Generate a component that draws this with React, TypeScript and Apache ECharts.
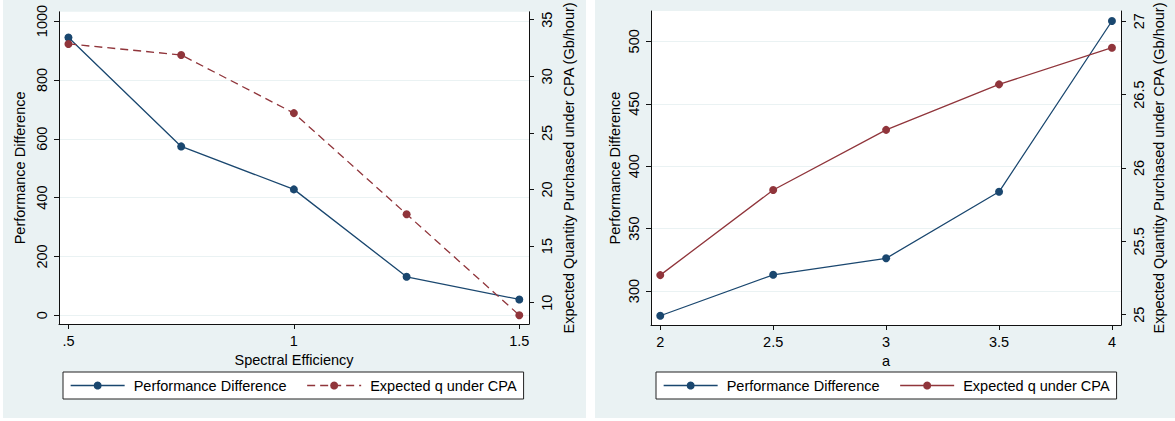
import React, { useEffect, useRef } from 'react';
import * as echarts from 'echarts';

// Left panel data
const efficiency = [0.5, 0.75, 1, 1.25, 1.5];
const perfDiffA = [944, 574, 428, 131, 54];
const expectedQA = [32.86, 31.89, 26.75, 17.82, 8.9];
// Right panel data
const aValues = [2, 2.5, 3, 3.5, 4];
const perfDiffB = [280.2, 313, 326.2, 379.5, 516.3];
const expectedQB = [25.27, 25.85, 26.26, 26.57, 26.82];

// Tick values
const xTicksA = [0.5, 1, 1.5];
const yTicksLeftA = [0, 200, 400, 600, 800, 1000];
const yTicksRightA = [10, 15, 20, 25, 30, 35];
const xTicksB = [2, 2.5, 3, 3.5, 4];
const yTicksLeftB = [300, 350, 400, 450, 500];
const yTicksRightB = [25, 25.5, 26, 26.5, 27];

const NAME_PD = 'Performance Difference';
const NAME_Q = 'Expected q under CPA';
const TITLE_LEFT = 'Performance Difference';
const TITLE_RIGHT = 'Expected Quantity Purchased under CPA (Gb/hour)';

const FONT = '"Liberation Sans", Arial, sans-serif';
const FS = 14.5;
const BLUE = '#1a476f';
const RED = '#90353b';
const BG = '#eaf2f3';
const AXIS = '#111';

const fmt = (v: number) => {
  const s = String(v);
  return s.startsWith('0.') ? s.slice(1) : s;
};

function xAxis(gridIndex: number, min: number, max: number, ticks: number[], name: string) {
  return {
    type: 'value',
    gridIndex,
    min,
    max,
    name,
    nameLocation: 'middle',
    nameGap: 24,
    nameTextStyle: { fontFamily: FONT, fontSize: FS, color: '#000' },
    axisLine: { show: true, onZero: false, lineStyle: { color: AXIS, width: 1 } },
    axisTick: { show: true, length: 5, customValues: ticks, lineStyle: { color: AXIS } },
    axisLabel: { customValues: ticks, margin: 9, fontFamily: FONT, fontSize: FS, color: '#000', formatter: (v: number) => fmt(v) },
    splitLine: { show: false },
  };
}

function yAxis(
  gridIndex: number,
  position: 'left' | 'right',
  min: number,
  max: number,
  ticks: number[],
  name: string,
  grid: boolean,
  nameGap: number
) {
  return {
    type: 'value',
    gridIndex,
    position,
    min,
    max,
    name,
    nameLocation: 'middle',
    nameRotate: 90,
    nameGap,
    nameTextStyle: { fontFamily: FONT, fontSize: FS, color: '#000' },
    axisLine: { show: true, onZero: false, lineStyle: { color: AXIS, width: 1 } },
    axisTick: { show: true, length: 5, customValues: ticks, lineStyle: { color: AXIS } },
    axisLabel: { customValues: ticks, rotate: 90, margin: 10, fontFamily: FONT, fontSize: FS, color: '#000', formatter: (v: number) => fmt(v) },
    splitLine: { show: grid, lineStyle: { color: BG, width: 1 } },
  };
}

function lineSeries(name: string, xs: number[], ys: number[], xi: number, yi: number, color: string, dashed: boolean) {
  return {
    type: 'line',
    name,
    xAxisIndex: xi,
    yAxisIndex: yi,
    data: xs.map((x, i) => [x, ys[i]]),
    symbol: 'circle',
    symbolSize: 8,
    lineStyle: { color, width: 1.3, type: dashed ? [8, 5] : 'solid' },
    itemStyle: { color },
  };
}

function legend(left: number, dashedQ: boolean) {
  return {
    left,
    top: 372,
    orient: 'horizontal',
    backgroundColor: '#fff',
    borderColor: '#222',
    borderWidth: 1,
    padding: [6, 7],
    itemGap: 20,
    itemWidth: 54,
    itemHeight: 10,
    selectedMode: false,
    textStyle: { fontFamily: FONT, fontSize: FS, color: '#000', padding: [0, 0, 0, 4] },
    data: [
      { name: NAME_PD, lineStyle: { type: 'solid', color: BLUE, width: 1.3 } },
      { name: NAME_Q, lineStyle: { type: dashedQ ? [8, 5] : 'solid', color: RED, width: 1.3 } },
    ],
  };
}

export default function App() {
  const ref = useRef<HTMLDivElement>(null);
  useEffect(() => {
    if (!ref.current) return;
    const chart = echarts.init(ref.current, undefined, { renderer: 'svg' });
    chart.setOption({
      animation: false,
      backgroundColor: '#fff',
      graphic: [
        { type: 'rect', z: -100, silent: true, shape: { x: 3, y: 0, width: 583, height: 418 }, style: { fill: BG } },
        { type: 'rect', z: -100, silent: true, shape: { x: 595, y: 0, width: 580, height: 418 }, style: { fill: BG } },
      ],
      grid: [
        { left: 59, top: 11, width: 470, height: 313, show: true, backgroundColor: '#fff', borderWidth: 0 },
        { left: 651, top: 11, width: 470, height: 314, show: true, backgroundColor: '#fff', borderWidth: 0 },
      ],
      xAxis: [
        xAxis(0, 0.479, 1.5215, xTicksA, 'Spectral Efficiency'),
        xAxis(1, 1.959, 4.04, xTicksB, 'a'),
      ],
      yAxis: [
        yAxis(0, 'left', -29.5, 1031.5, yTicksLeftA, TITLE_LEFT, true, 32),
        yAxis(0, 'right', 8.12, 35.7, yTicksRightA, TITLE_RIGHT, false, 32),
        yAxis(1, 'left', 272.8, 524.3, yTicksLeftB, TITLE_LEFT, true, 29),
        yAxis(1, 'right', 24.93, 27.07, yTicksRightB, TITLE_RIGHT, false, 30),
      ],
      legend: [legend(63, true), legend(656, false)],
      series: [
        lineSeries(NAME_PD, efficiency, perfDiffA, 0, 0, BLUE, false),
        lineSeries(NAME_Q, efficiency, expectedQA, 0, 1, RED, true),
        lineSeries(NAME_PD, aValues, perfDiffB, 1, 2, BLUE, false),
        lineSeries(NAME_Q, aValues, expectedQB, 1, 3, RED, false),
      ],
    });
    return () => chart.dispose();
  }, []);
  return <div ref={ref} style={{ position: 'absolute', left: 0, top: 0, width: 1175, height: 421 }} />;
}
